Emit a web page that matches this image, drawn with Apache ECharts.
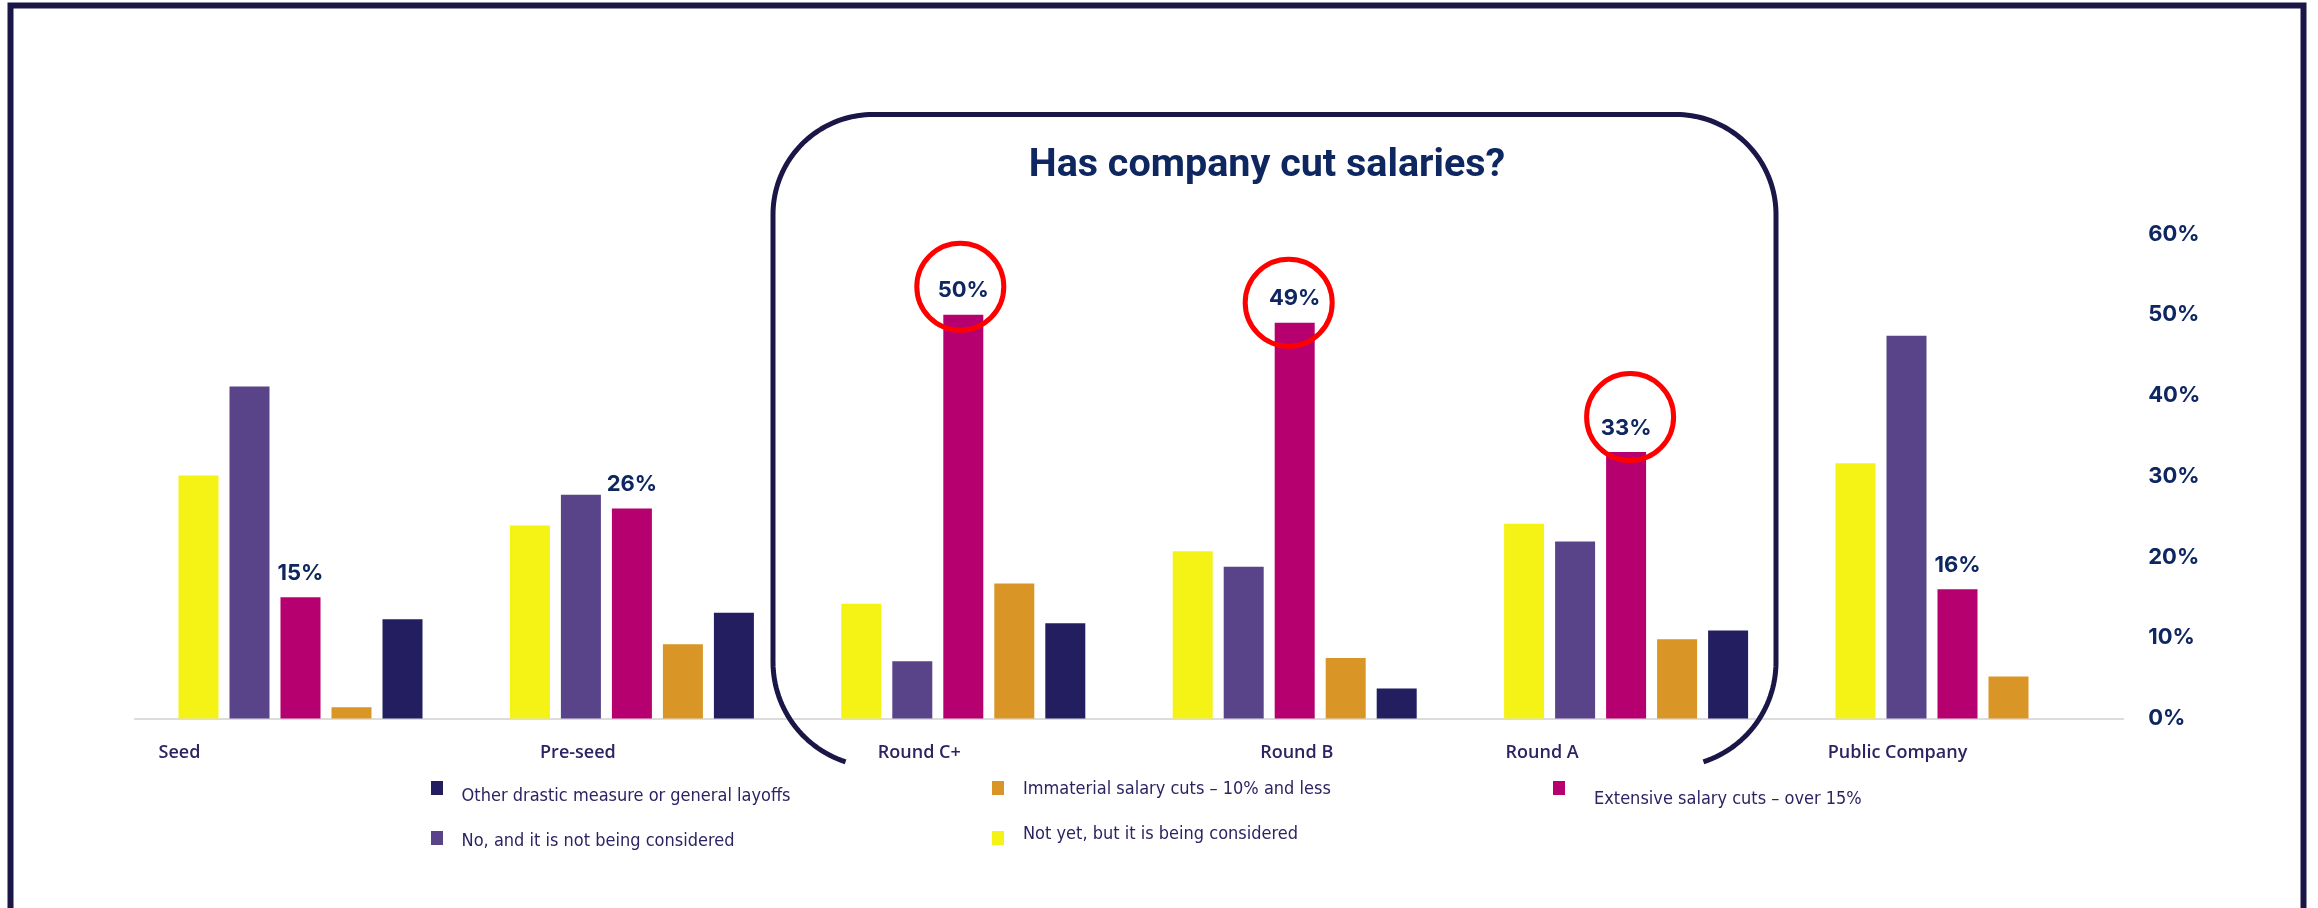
<!DOCTYPE html>
<html>
<head>
<meta charset="utf-8">
<style>
html,body{margin:0;padding:0;background:#ffffff;}
#chart{width:2318px;height:908px;}
</style>
<script src="https://cdn.jsdelivr.net/npm/echarts@6.0.0/dist/echarts.min.js"></script>
</head>
<body>
<div id="chart"></div>
<script>
// ---- data ----
const categories = ['Seed', 'Pre-seed', 'Round C+', 'Round B', 'Round A', 'Public Company'];
const notYetConsidered = [30.1, 23.9, 14.2, 20.7, 24.1, 31.6];
const noNotConsidered = [41.1, 27.7, 7.1, 18.8, 21.9, 47.4];
const extensiveCuts = [15, 26, 50, 49, 33, 16];
const immaterialCuts = [1.4, 9.2, 16.7, 7.5, 9.8, 5.2];
const otherDrastic = [12.3, 13.1, 11.8, 3.7, 10.9, null];
const yTickValues = [0, 10, 20, 30, 40, 50, 60];
const circledCategories = ['Round C+', 'Round B', 'Round A'];
const titleText = 'Has company cut salaries?';

const seriesNames = {
  notYet: 'Not yet, but it is being considered',
  no: 'No, and it is not being considered',
  extensive: 'Extensive salary cuts – over 15%',
  immaterial: 'Immaterial salary cuts – 10% and less',
  other: 'Other drastic measure or general layoffs'
};

// ---- styles ----
const C = {
  yellow: '#F5F215', purple: '#594489', magenta: '#B6006F', orange: '#D99626', navy: '#221E60',
  frame: '#1B1648', text: '#2B2462', blue: '#0E2760', red: '#FF0000', axis: '#DCDCDC'
};
const catLabelShift = {'Seed': -121, 'Pre-seed': -54, 'Round C+': -44, 'Round B': 2, 'Round A': -84, 'Public Company': -60};
const circleOffsets = {'Round C+': [-3, -28], 'Round B': [-6, -20], 'Round A': [4, -35]};
const legendFont = "'Liberation Sans Narrow','DejaVu Sans Condensed','Roboto Condensed',Roboto,sans-serif";

const legendLayout = [
  {name: seriesNames.other, left: 431, sqTop: 782, padLeft: 13.6, shift: 8},
  {name: seriesNames.no, left: 431, sqTop: 832, padLeft: 13.6, shift: 3},
  {name: seriesNames.immaterial, left: 992, sqTop: 782, padLeft: 14, shift: 1},
  {name: seriesNames.notYet, left: 992, sqTop: 832, padLeft: 14, shift: -4},
  {name: seriesNames.extensive, left: 1553, sqTop: 782, padLeft: 24, shift: 11}
];

const catRich = {};
categories.forEach((c, i) => {
  const s = catLabelShift[c] || 0;
  catRich['c' + i] = {
    fontFamily: "'Open Sans', sans-serif", fontWeight: 600, fontSize: 18, color: C.text,
    padding: s < 0 ? [0, -2 * s, 0, 0] : [0, 0, 0, 2 * s]
  };
});

const legends = legendLayout.map(l => {
  const s = l.shift;
  return {
    data: [l.name], left: l.left, top: l.sqTop - 3 - Math.abs(s), padding: 0,
    orient: 'vertical', icon: 'rect', itemWidth: 12, itemHeight: 14, selectedMode: false,
    formatter: n => '{t|' + n + '}',
    textStyle: { rich: { t: {
      fontFamily: legendFont, fontSize: 18, lineHeight: 20, color: C.text,
      padding: [s > 0 ? 2 * s : 0, 0, s < 0 ? -2 * s : 0, l.padLeft]
    } } }
  };
});

// decorative rounded frame (open at the bottom), sampled as a polyline
function arcPts(cx, cy, r, a0, a1, n) {
  const pts = [];
  for (let i = 0; i <= n; i++) {
    const a = (a0 + (a1 - a0) * i / n) * Math.PI / 180;
    pts.push([cx + r * Math.cos(a), cy + r * Math.sin(a)]);
  }
  return pts;
}
const frameGeom = { L: 773, R: 1776, T: 114.5, rTop: 100, yLow: 662, rLow: 105, endAng: 72 };
const fg = frameGeom;
const framePoints = [].concat(
  arcPts(fg.L + fg.rLow, fg.yLow, fg.rLow, 180 - fg.endAng, 180, 30),
  arcPts(fg.L + fg.rTop, fg.T + fg.rTop, fg.rTop, 180, 270, 40),
  arcPts(fg.R - fg.rTop, fg.T + fg.rTop, fg.rTop, 270, 360, 40),
  arcPts(fg.R - fg.rLow, fg.yLow, fg.rLow, 0, fg.endAng, 30)
);

const barCommon = { type: 'bar', barWidth: 40, barGap: '27.5%', emphasis: { disabled: true } };

const option = {
  animation: false,
  backgroundColor: '#ffffff',
  grid: { left: 134.8, right: 194.8, top: 233.9, bottom: 189.5, containLabel: false, outerBoundsMode: 'none' },
  legend: legends,
  xAxis: {
    type: 'category', data: categories,
    axisLine: { lineStyle: { color: C.axis, width: 2 } },
    axisTick: { show: false },
    axisLabel: {
      interval: 0, margin: 25,
      formatter: (v, i) => '{c' + i + '|' + v + '}',
      rich: catRich
    }
  },
  yAxis: {
    type: 'value', position: 'right', min: yTickValues[0], max: yTickValues[yTickValues.length - 1], interval: 10,
    splitLine: { show: false }, axisLine: { show: false }, axisTick: { show: false },
    axisLabel: { margin: 25, formatter: '{value}%', fontFamily: 'Inter, sans-serif', fontWeight: 700, fontSize: 22, color: C.blue }
  },
  series: [
    Object.assign({ name: seriesNames.notYet, data: notYetConsidered, itemStyle: { color: C.yellow } }, barCommon),
    Object.assign({ name: seriesNames.no, data: noNotConsidered, itemStyle: { color: C.purple } }, barCommon),
    Object.assign({
      name: seriesNames.extensive, data: extensiveCuts, itemStyle: { color: C.magenta },
      label: { show: true, position: 'top', distance: 13, formatter: '{c}%', fontFamily: 'Inter, sans-serif', fontWeight: 700, fontSize: 22, lineHeight: 22, color: C.blue },
      markPoint: {
        symbol: 'circle', symbolSize: 87, silent: true,
        itemStyle: { color: 'rgba(0,0,0,0)', borderColor: C.red, borderWidth: 5 },
        label: { show: false },
        data: circledCategories.map(c => ({ coord: [c, extensiveCuts[categories.indexOf(c)]], symbolOffset: circleOffsets[c] }))
      }
    }, barCommon),
    Object.assign({ name: seriesNames.immaterial, data: immaterialCuts, itemStyle: { color: C.orange } }, barCommon),
    Object.assign({ name: seriesNames.other, data: otherDrastic, itemStyle: { color: C.navy } }, barCommon)
  ],
  graphic: [
    { type: 'rect', z: 100, silent: true, shape: { x: 10.5, y: 5.5, width: 2293, height: 1000 },
      style: { fill: 'none', stroke: C.frame, lineWidth: 6 } },
    { type: 'polyline', z: 100, silent: true,
      shape: { points: framePoints },
      style: { fill: 'none', stroke: C.frame, lineWidth: 5, lineJoin: 'round' } },
    { type: 'text', z: 100, silent: true, x: 1267, y: 166,
      style: { text: titleText, align: 'center', verticalAlign: 'middle', fontFamily: 'Roboto, sans-serif', fontWeight: 700, fontSize: 39.5, fill: C.blue } }
  ]
};

const chart = echarts.init(document.getElementById('chart'), null, { renderer: 'canvas' });
chart.setOption(option);
</script>
</body>
</html>
